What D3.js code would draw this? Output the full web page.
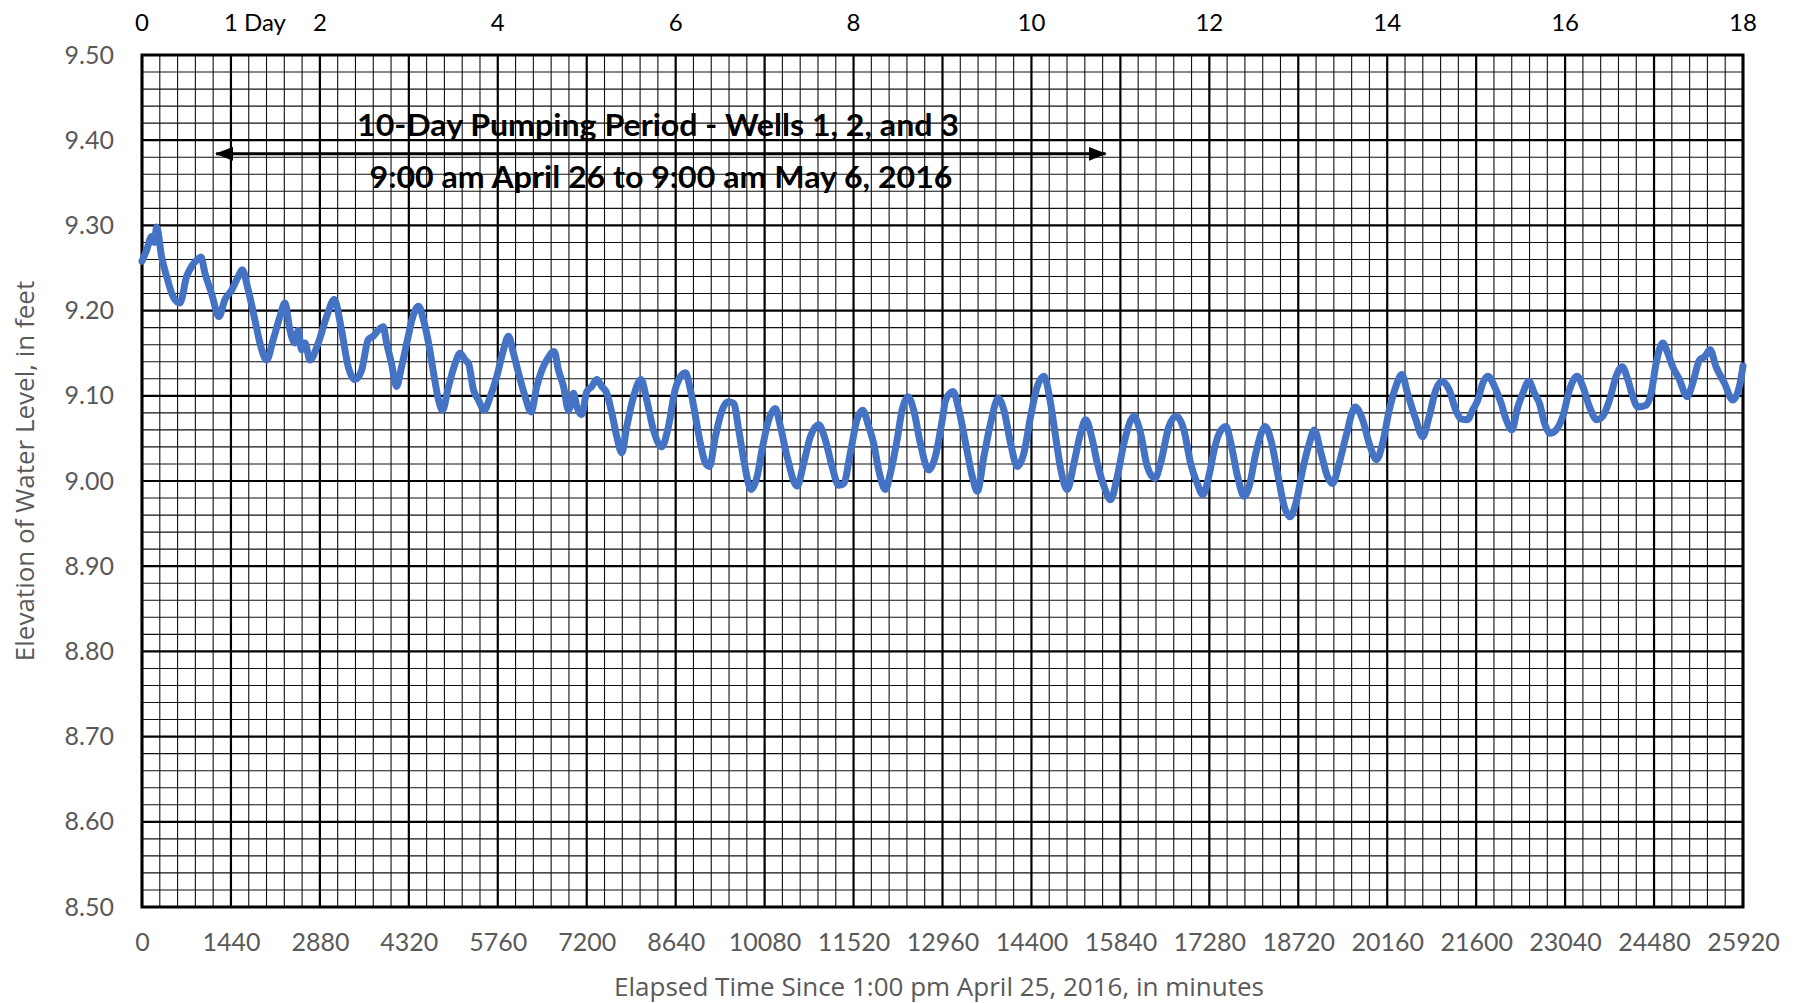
<!DOCTYPE html>
<html>
<head>
<meta charset="utf-8">
<script src="https://cdn.jsdelivr.net/npm/d3@7"></script>
<style>
  html, body { margin: 0; padding: 0; background: #fff; }
  svg { display: block; }
</style>
</head>
<body>
<svg id="chart" width="1804" height="1003"></svg>
<script>
// Elapsed time (minutes since 1:00 pm April 25, 2016)
const minutes = [
  0, 75, 156, 200, 237, 318, 399, 507, 615, 722, 803, 884, 954, 1019, 1127, 1246, 1343, 1451,
  1559, 1623, 1720, 1828, 1909, 2017, 2125, 2233, 2314, 2395, 2476, 2530, 2584, 2638, 2719, 2854,
  2989, 3112, 3231, 3339, 3447, 3555, 3663, 3744, 3825, 3906, 3960, 4040, 4121, 4202, 4310, 4369,
  4477, 4558, 4639, 4720, 4801, 4865, 4962, 5070, 5151, 5232, 5286, 5367, 5448, 5540, 5637, 5745,
  5853, 5933, 6014, 6095, 6203, 6300, 6392, 6473, 6554, 6673, 6743, 6824, 6905, 6986, 7040, 7120,
  7201, 7282, 7363, 7444, 7525, 7606, 7687, 7768, 7849, 7957, 8080, 8172, 8280, 8415, 8523, 8631,
  8690, 8798, 8879, 8960, 9041, 9122, 9186, 9283, 9391, 9488, 9580, 9661, 9742, 9861, 9958, 10039,
  10147, 10254, 10336, 10443, 10605, 10713, 10821, 10956, 11064, 11172, 11280, 11360, 11468, 11576,
  11668, 11765, 11846, 11927, 12035, 12116, 12224, 12305, 12402, 12494, 12602, 12737, 12845, 12952,
  13011, 13130, 13227, 13335, 13443, 13523, 13631, 13739, 13863, 13955, 14063, 14171, 14279, 14387,
  14495, 14602, 14710, 14791, 14888, 14980, 15088, 15196, 15277, 15374, 15466, 15574, 15681, 15789,
  15897, 16059, 16167, 16275, 16399, 16491, 16626, 16744, 16868, 16976, 17084, 17176, 17279, 17360,
  17441, 17549, 17630, 17738, 17845, 17926, 18034, 18185, 18277, 18385, 18493, 18585, 18682, 18790,
  18898, 18979, 19087, 19194, 19275, 19383, 19491, 19642, 19761, 19869, 19987, 20084, 20192, 20300,
  20397, 20489, 20624, 20732, 20840, 20948, 21045, 21163, 21271, 21352, 21460, 21541, 21627, 21708,
  21789, 21897, 22005, 22086, 22177, 22274, 22355, 22452, 22544, 22625, 22706, 22798, 22895, 23003,
  23111, 23235, 23326, 23434, 23553, 23650, 23758, 23866, 23963, 24055, 24136, 24217, 24351, 24432,
  24513, 24621, 24702, 24783, 24891, 25015, 25107, 25215, 25300, 25387, 25484, 25619, 25754, 25862,
  25920
];

// Elevation of water level, feet
const elevation = [
  9.258, 9.271, 9.287, 9.280, 9.298, 9.263, 9.240, 9.216, 9.209, 9.240, 9.252, 9.259, 9.263, 9.244, 9.220, 9.193, 9.213, 9.224,
  9.240, 9.248, 9.224, 9.189, 9.162, 9.142, 9.166, 9.193, 9.209, 9.177, 9.162, 9.177, 9.154, 9.162, 9.142, 9.162,
  9.193, 9.213, 9.177, 9.134, 9.119, 9.130, 9.166, 9.170, 9.177, 9.181, 9.162, 9.138, 9.111, 9.134, 9.170, 9.189,
  9.205, 9.189, 9.162, 9.127, 9.095, 9.083, 9.111, 9.138, 9.150, 9.142, 9.138, 9.107, 9.095, 9.083, 9.099, 9.123,
  9.154, 9.170, 9.150, 9.127, 9.099, 9.081, 9.111, 9.130, 9.142, 9.152, 9.130, 9.111, 9.083, 9.103, 9.087, 9.078,
  9.105, 9.111, 9.119, 9.111, 9.103, 9.080, 9.052, 9.033, 9.064, 9.099, 9.119, 9.095, 9.060, 9.040, 9.064, 9.107,
  9.119, 9.127, 9.107, 9.076, 9.044, 9.021, 9.017, 9.052, 9.083, 9.093, 9.091, 9.060, 9.025, 8.990, 9.005, 9.037,
  9.072, 9.085, 9.064, 9.029, 8.994, 9.021, 9.052, 9.066, 9.048, 9.017, 8.995, 8.997, 9.033, 9.072,
  9.083, 9.064, 9.044, 9.013, 8.990, 9.009, 9.048, 9.083, 9.099, 9.083, 9.044, 9.013, 9.029, 9.070,
  9.095, 9.105, 9.083, 9.044, 9.005, 8.988, 9.029, 9.068, 9.097, 9.083, 9.044, 9.017, 9.033, 9.076,
  9.111, 9.123, 9.091, 9.052, 9.009, 8.990, 9.021, 9.056, 9.072, 9.052, 9.021, 8.994, 8.978, 9.005,
  9.044, 9.076, 9.056, 9.017, 9.003, 9.021, 9.064, 9.076, 9.060, 9.021, 8.997, 8.984, 9.008, 9.037,
  9.056, 9.064, 9.044, 9.005, 8.982, 8.994, 9.033, 9.064, 9.048, 9.009, 8.970, 8.958, 8.974, 9.013,
  9.044, 9.060, 9.033, 9.005, 8.997, 9.021, 9.052, 9.087, 9.072, 9.044, 9.025, 9.044, 9.083, 9.111,
  9.125, 9.103, 9.072, 9.052, 9.076, 9.107, 9.117, 9.107, 9.083, 9.073, 9.072, 9.083, 9.095, 9.115,
  9.123, 9.111, 9.091, 9.072, 9.060, 9.087, 9.103, 9.117, 9.103, 9.091, 9.068, 9.056, 9.060, 9.076,
  9.107, 9.123, 9.111, 9.087, 9.072, 9.076, 9.095, 9.123, 9.134, 9.119, 9.099, 9.087, 9.089, 9.103,
  9.138, 9.162, 9.150, 9.134, 9.119, 9.099, 9.115, 9.142, 9.146, 9.154, 9.134, 9.115, 9.095, 9.111,
  9.135
];

// Axis ticks
const bottomTicks = [0, 1440, 2880, 4320, 5760, 7200, 8640, 10080, 11520, 12960, 14400, 15840, 17280, 18720, 20160, 21600, 23040, 24480, 25920];
const leftTicks = [8.5, 8.6, 8.7, 8.8, 8.9, 9.0, 9.1, 9.2, 9.3, 9.4, 9.5];
const topDays = [0, 1, 2, 4, 6, 8, 10, 12, 14, 16, 18];
const topLabels = ["0", "1 Day", "2", "4", "6", "8", "10", "12", "14", "16", "18"];

// Pumping period annotation (minutes, feet)
const pumpStart = 1200;   // 9:00 am April 26
const pumpEnd = 15600;    // 9:00 am May 6
const pumpLevel = 9.384;
const pumpTitle = "10-Day Pumping Period - Wells 1, 2, and 3";
const pumpDates = "9:00 am April 26 to 9:00 am May 6, 2016";

const xTitle = "Elapsed Time Since 1:00 pm April 25, 2016, in minutes";
const yTitle = "Elevation of Water Level, in feet";

const W = 1804, H = 1003;
const plot = { left: 142, right: 1743, top: 55, bottom: 907 };
const FONT = "Lato, 'Open Sans', sans-serif";
const TITLE_FONT = "'Open Sans', Lato, sans-serif";

const svg = d3.select("#chart");

const x = d3.scaleLinear().domain([0, 25920]).range([plot.left, plot.right]);
const y = d3.scaleLinear().domain([8.5, 9.5]).range([plot.bottom, plot.top]);
const xDay = d3.scaleLinear().domain([0, 18]).range([plot.left, plot.right]);

// Graph-paper grid: minor every 288 min / 0.02 ft, major every day / 0.1 ft
const grid = svg.append("g");
const minorX = d3.range(0, 25920 + 1, 288).filter(v => v % 1440 !== 0);
const minorY = d3.range(0, 51).map(i => 8.5 + i * 0.02).filter((v, i) => i % 5 !== 0);

grid.selectAll(".vminor").data(minorX).join("line")
  .attr("x1", d => x(d)).attr("x2", d => x(d))
  .attr("y1", plot.top).attr("y2", plot.bottom)
  .attr("stroke", "#111").attr("stroke-width", 1.1);
grid.selectAll(".hminor").data(minorY).join("line")
  .attr("y1", d => y(d)).attr("y2", d => y(d))
  .attr("x1", plot.left).attr("x2", plot.right)
  .attr("stroke", "#111").attr("stroke-width", 1.1);
grid.selectAll(".vmajor").data(bottomTicks).join("line")
  .attr("x1", d => x(d)).attr("x2", d => x(d))
  .attr("y1", plot.top).attr("y2", plot.bottom)
  .attr("stroke", "#000").attr("stroke-width", 2.2);
grid.selectAll(".hmajor").data(leftTicks).join("line")
  .attr("y1", d => y(d)).attr("y2", d => y(d))
  .attr("x1", plot.left).attr("x2", plot.right)
  .attr("stroke", "#000").attr("stroke-width", 2.2);

grid.append("rect")
  .attr("x", plot.left).attr("y", plot.top)
  .attr("width", plot.right - plot.left).attr("height", plot.bottom - plot.top)
  .attr("fill", "none").attr("stroke", "#000").attr("stroke-width", 3);

// Axes
const xAxis = svg.append("g")
  .attr("transform", `translate(0,${plot.bottom})`)
  .call(d3.axisBottom(x).tickValues(bottomTicks).tickFormat(d3.format("d")).tickSize(0).tickPadding(26));
xAxis.select(".domain").remove();
xAxis.selectAll("text").attr("font-family", FONT).attr("font-size", 25).attr("fill", "#595959");

const yAxis = svg.append("g")
  .attr("transform", `translate(${plot.left},0)`)
  .call(d3.axisLeft(y).tickValues(leftTicks).tickFormat(d3.format(".2f")).tickSize(0).tickPadding(28));
yAxis.select(".domain").remove();
yAxis.selectAll("text").attr("font-family", FONT).attr("font-size", 25).attr("fill", "#595959");

// Top axis in days
const topAxis = svg.append("g");
topAxis.selectAll("text").data(topDays).join("text")
  .attr("x", d => xDay(d))
  .attr("y", 31)
  .attr("font-family", FONT).attr("font-size", 24).attr("fill", "#000")
  .attr("text-anchor", "middle")
  .text((d, i) => topLabels[i])
  .each(function (d, i) {
    // keep the leading numeral centred over its gridline
    if (topLabels[i].indexOf(" ") > 0) {
      const first = this.getSubStringLength(0, topLabels[i].indexOf(" "));
      d3.select(this).attr("text-anchor", "start").attr("x", xDay(d) - first / 2);
    }
  });

// Water level series
const series = minutes.map((m, i) => [m, elevation[i]]);
svg.append("path")
  .datum(series)
  .attr("fill", "none")
  .attr("stroke", "#4472C4")
  .attr("stroke-width", 7)
  .attr("stroke-linejoin", "round")
  .attr("stroke-linecap", "round")
  .attr("d", d3.line().x(d => x(d[0])).y(d => y(d[1])).curve(d3.curveMonotoneX));

// Pumping-period arrow
const defs = svg.append("defs");
defs.append("marker")
  .attr("id", "head").attr("viewBox", "0 0 18 14")
  .attr("refX", 17).attr("refY", 7)
  .attr("markerWidth", 18).attr("markerHeight", 14)
  .attr("markerUnits", "userSpaceOnUse")
  .attr("orient", "auto-start-reverse")
  .append("path").attr("d", "M0,0 L18,7 L0,14 Z").attr("fill", "#000");

svg.append("line")
  .attr("x1", x(pumpStart)).attr("x2", x(pumpEnd))
  .attr("y1", y(pumpLevel)).attr("y2", y(pumpLevel))
  .attr("stroke", "#000").attr("stroke-width", 3)
  .attr("marker-start", "url(#head)").attr("marker-end", "url(#head)");

svg.append("text")
  .attr("x", 658).attr("y", 136)
  .attr("text-anchor", "middle")
  .attr("font-family", FONT).attr("font-weight", "bold").attr("font-size", 30).attr("fill", "#000")
  .attr("textLength", 602).attr("lengthAdjust", "spacingAndGlyphs")
  .text(pumpTitle);
svg.append("text")
  .attr("x", 661).attr("y", 188)
  .attr("text-anchor", "middle")
  .attr("font-family", FONT).attr("font-weight", "bold").attr("font-size", 30).attr("fill", "#000")
  .attr("textLength", 583).attr("lengthAdjust", "spacingAndGlyphs")
  .text(pumpDates);

// Axis titles
svg.append("text")
  .attr("x", 939).attr("y", 996)
  .attr("text-anchor", "middle")
  .attr("font-family", TITLE_FONT).attr("font-size", 26).attr("fill", "#595959")
  .text(xTitle);
svg.append("text")
  .attr("transform", "translate(34,471) rotate(-90)")
  .attr("text-anchor", "middle")
  .attr("font-family", TITLE_FONT).attr("font-size", 26).attr("fill", "#595959")
  .text(yTitle);
</script>
</body>
</html>
